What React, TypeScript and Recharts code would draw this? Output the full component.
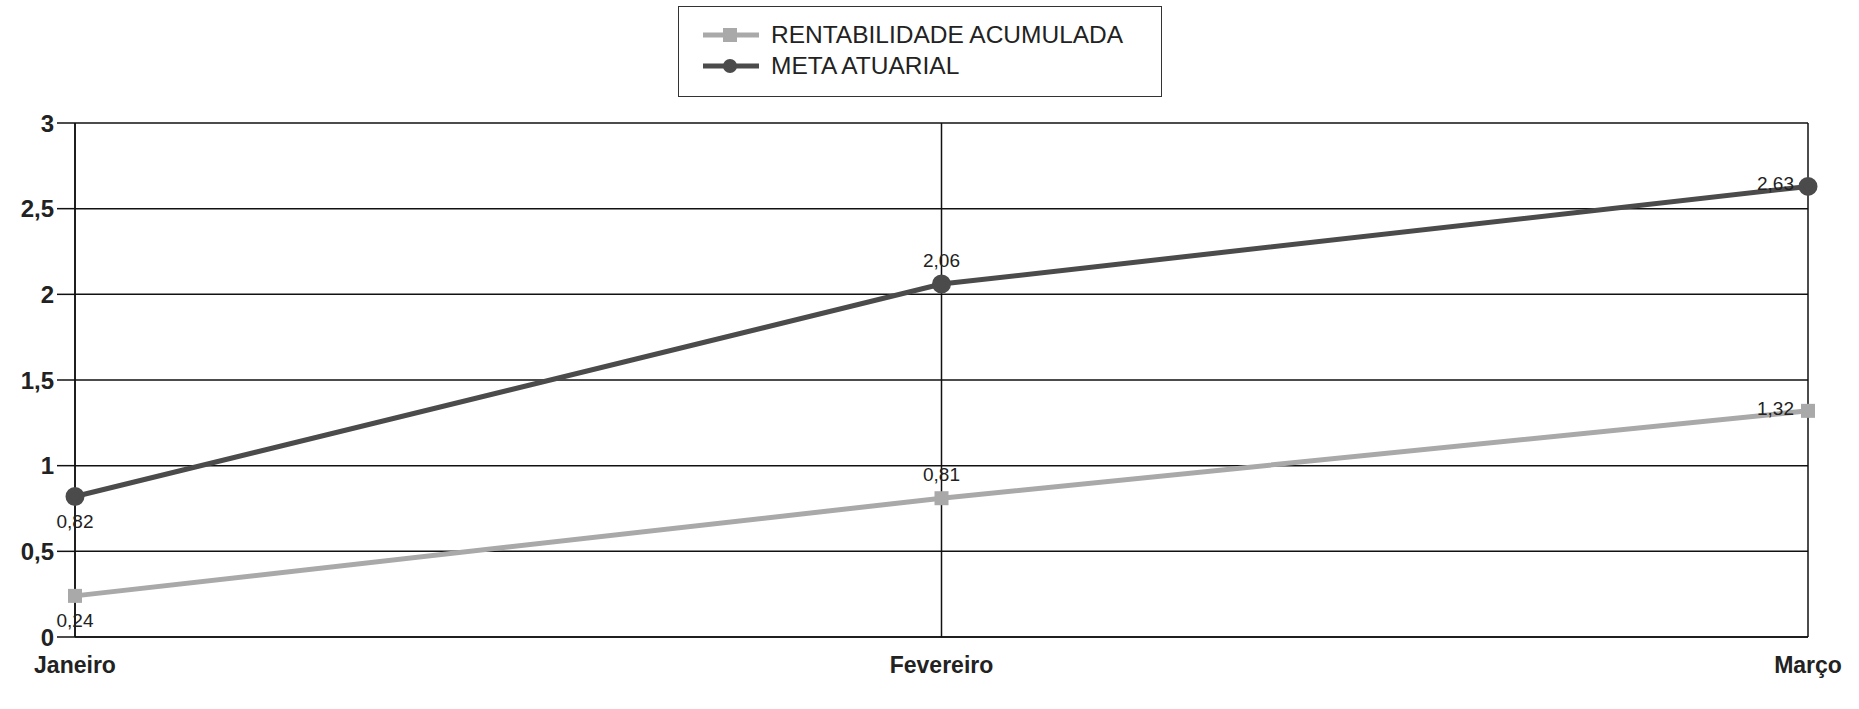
import { CartesianGrid, Line, LineChart, XAxis, YAxis } from "recharts";

const months = ["Janeiro", "Fevereiro", "Março"];
const rentabilidade = [0.24, 0.81, 1.32];
const metaAtuarial = [0.82, 2.06, 2.63];
const yTicks = [0, 0.5, 1, 1.5, 2, 2.5, 3];

const data = months.map((month, i) => ({
  month,
  rentabilidade: rentabilidade[i],
  meta: metaAtuarial[i],
}));

const LIGHT = "#a9a9a9";
const DARK = "#4b4b4b";
const FONT = "'Liberation Sans', Arial, sans-serif";

const fmt = (v: number) => String(v).replace(".", ",");

function makeLabel(places: string[]) {
  return (props: any) => {
    const { x, y, value, index } = props;
    const place = places[index];
    let tx = x;
    let ty = y;
    let anchor: "middle" | "end" = "middle";
    if (place === "top") ty = y - 17;
    if (place === "bottom") ty = y + 31;
    if (place === "left") {
      tx = x - 14;
      ty = y + 4;
      anchor = "end";
    }
    return (
      <text x={tx} y={ty} textAnchor={anchor} fontSize={19} fill="#222" fontFamily={FONT}>
        {fmt(value)}
      </text>
    );
  };
}

function SquareDot(props: any) {
  const { cx, cy } = props;
  return <rect x={cx - 7} y={cy - 7} width={14} height={14} fill={LIGHT} />;
}

function LegendBox() {
  const row = (color: string, text: string, square: boolean) => (
    <div style={{ display: "flex", alignItems: "center", height: 31 }}>
      <svg width={62} height={20}>
        <line x1={4} y1={10} x2={60} y2={10} stroke={color} strokeWidth={5} />
        {square ? (
          <rect x={24} y={3} width={14} height={14} fill={color} />
        ) : (
          <circle cx={31} cy={10} r={7} fill={color} />
        )}
      </svg>
      <span style={{ marginLeft: 10, fontSize: 24.5, color: "#222", fontFamily: FONT }}>{text}</span>
    </div>
  );
  return (
    <div
      style={{
        position: "absolute",
        left: 678,
        top: 6,
        border: "1.5px solid #333",
        width: 484,
        height: 91,
        boxSizing: "border-box",
        padding: "12px 0 0 20px",
        background: "#fff",
      }}
    >
      {row(LIGHT, "RENTABILIDADE ACUMULADA", true)}
      {row(DARK, "META ATUARIAL", false)}
    </div>
  );
}

export default function App() {
  return (
    <div style={{ position: "absolute", left: 0, top: 0, width: 1859, height: 709, background: "#fff" }}>
      <LineChart width={1859} height={709} data={data} margin={{ top: 123, right: 51, bottom: 30, left: 0 }}>
        <CartesianGrid stroke="#111" strokeWidth={1.5} vertical horizontal />
        <XAxis
          dataKey="month"
          scale="point"
          padding={{ left: 0, right: 0 }}
          height={42}
          stroke="#111"
          strokeWidth={1.5}
          tickLine={false}
          tickMargin={14}
          tick={{ fontSize: 23, fontWeight: "bold", fill: "#222", fontFamily: FONT }}
        />
        <YAxis
          width={75}
          domain={[0, 3]}
          ticks={yTicks}
          interval={0}
          tickFormatter={fmt}
          stroke="#111"
          strokeWidth={1.5}
          tickSize={18}
          tickMargin={3}
          tick={{ fontSize: 24, fontWeight: "bold", fill: "#222", fontFamily: FONT }}
        />
        <Line
          type="linear"
          dataKey="rentabilidade"
          name="RENTABILIDADE ACUMULADA"
          stroke={LIGHT}
          strokeWidth={5}
          dot={<SquareDot />}
          label={makeLabel(["bottom", "top", "left"])}
          isAnimationActive={false}
        />
        <Line
          type="linear"
          dataKey="meta"
          name="META ATUARIAL"
          stroke={DARK}
          strokeWidth={5}
          dot={{ r: 7, fill: DARK, stroke: DARK }}
          label={makeLabel(["bottom", "top", "left"])}
          isAnimationActive={false}
        />
      </LineChart>
      <LegendBox />
    </div>
  );
}
